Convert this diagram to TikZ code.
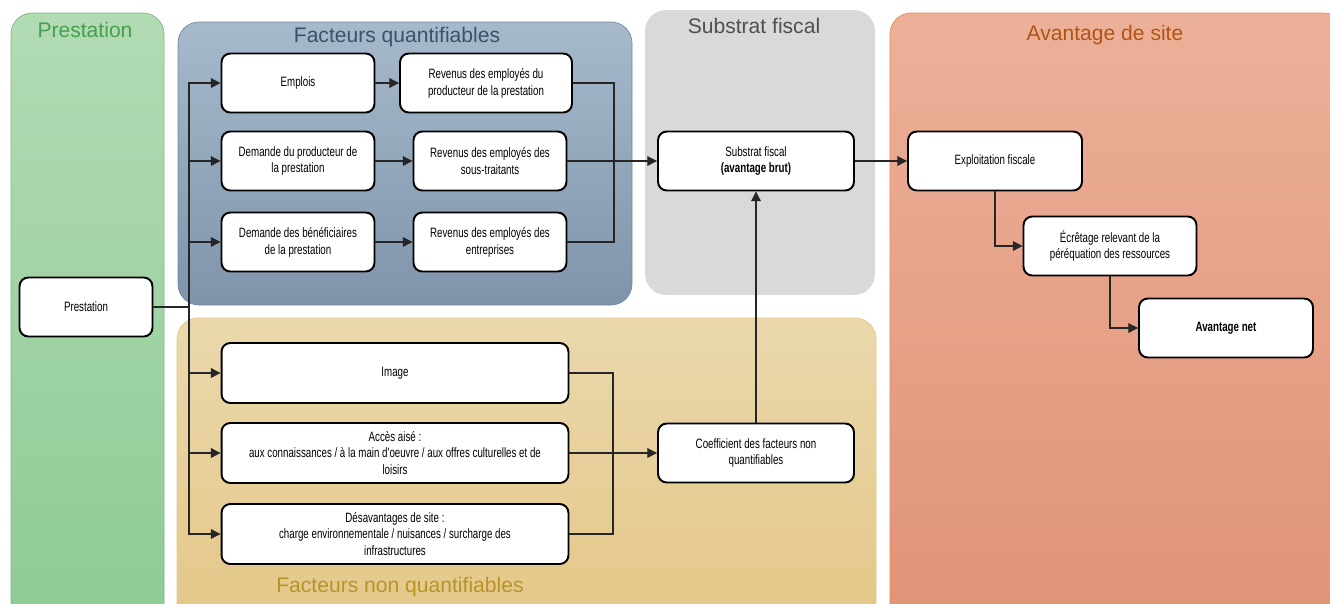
\documentclass[tikz,border=0pt]{standalone}
\usepackage{fontspec}
\setmainfont{Liberation Sans}
\newfontfamily\narrowfont[FakeStretch=0.72]{Liberation Sans}
\usetikzlibrary{arrows.meta}
\newcommand{\boxh}{1.18cm}
\definecolor{greentop}{RGB}{178,219,180}
\definecolor{greenbot}{RGB}{142,203,149}
\definecolor{bluetop}{RGB}{167,186,204}
\definecolor{bluebot}{RGB}{127,148,171}
\definecolor{tantop}{RGB}{234,216,172}
\definecolor{tanbot}{RGB}{228,199,136}
\definecolor{salmontop}{RGB}{236,176,153}
\definecolor{salmonbot}{RGB}{224,147,119}
\definecolor{greytitle}{RGB}{80,80,80}

\begin{document}
\begin{tikzpicture}[x=0.02cm,y=-0.02cm,
    box/.style={draw, line width=1.1pt, rounded corners=5pt, fill=white, align=center,
      minimum height=\boxh, inner sep=2pt, font=\narrowfont\fontsize{7.7}{9.6}\selectfont},
    link/.style={draw=black!85, line width=0.6pt},
    arr/.style={link, -{Triangle[length=5.5pt,width=5.5pt]}},
    title/.style={font=\fontsize{12}{14}\selectfont}]
  \useasboundingbox (0,0) rectangle (1330,603);
  \clip (0,0) rectangle (1330,603);

  % panels
  \draw[rounded corners=12pt, draw=greenbot!90!black, top color=greentop, bottom color=greenbot]
    (11,13) rectangle (164,625);
  \draw[rounded corners=12pt, draw=bluebot!90!black, top color=bluetop, bottom color=bluebot]
    (178,22) rectangle (632,305);
  \fill[rounded corners=12pt, black!15] (645,10) rectangle (875,295);
  \draw[rounded corners=12pt, draw=tanbot, top color=tantop, bottom color=tanbot]
    (177,318) rectangle (876,625);
  \draw[rounded corners=12pt, draw={rgb,255:red,232;green,140;blue,80}, top color=salmontop, bottom color=salmonbot]
    (890,13) rectangle (1345,625);

  \node (t1) at (85,30) [title, text={rgb,255:red,70;green,158;blue,80}] {Prestation};
  \node (t2) at (397,37) [title, text={rgb,255:red,58;green,82;blue,108}] {Facteurs quantifiables};
  \node (t3) at (754,26) [title, text=greytitle] {Substrat fiscal};
  \node (t4) at (1105,35) [title, text={rgb,255:red,178;green,84;blue,20}] {Avantage de site};
  \node (t5) at (400,587) [title, text={rgb,255:red,184;green,148;blue,40}] {Facteurs non quantifiables};

  % boxes
  \node (pres) at (86,307) [box, minimum width=2.66cm] {Prestation};
  \node (emp) at (298,83) [box, minimum width=3.06cm] {Emplois};
  \node (rev1) at (486,83) [box, minimum width=3.44cm] {Revenus des employés du\\producteur de la prestation};
  \node (dem1) at (298,161) [box, minimum width=3.06cm] {Demande du producteur de\\la prestation};
  \node (rev2) at (490,161) [box, minimum width=3.06cm] {Revenus des employés des\\sous-traitants};
  \node (dem2) at (298,242) [box, minimum width=3.06cm] {Demande des bénéficiaires\\de la prestation};
  \node (rev3) at (490,242) [box, minimum width=3.06cm] {Revenus des employés des\\entreprises};
  \node (sub) at (756,161) [box, minimum width=3.92cm] {Substrat fiscal\\\textbf{(avantage brut)}};
  \node (expl) at (995,161) [box, minimum width=3.48cm] {Exploitation fiscale};
  \node (ecr) at (1110,246) [box, minimum width=3.46cm] {Écrêtage relevant de la\\péréquation des ressources};
  \node (net) at (1226,328) [box, minimum width=3.48cm] {\textbf{Avantage net}};
  \node (img) at (395,373) [box, minimum width=6.94cm, minimum height=1.2cm] {Image};
  \node (acc) at (395,453) [box, minimum width=6.94cm, minimum height=1.2cm]
    {Accès aisé :\\aux connaissances / à la main d'oeuvre / aux offres culturelles et de\\loisirs};
  \node (des) at (395,534) [box, minimum width=6.94cm, minimum height=1.2cm]
    {Désavantages de site :\\charge environnementale / nuisances / surcharge des\\infrastructures};
  \node (coef) at (756,453) [box, minimum width=3.92cm] {Coefficient des facteurs non\\quantifiables};

  \coordinate (trunk) at (189,307);
  \coordinate (mq) at (614,161);
  \coordinate (mn) at (613,453);

  % connectors
  \draw[link] (pres) to (trunk);
  \foreach \b in {emp,dem1,dem2,img,acc,des}
    \draw[arr] (trunk) |- (\b.west);
  \draw[arr] (emp) to (rev1);
  \draw[arr] (dem1) to (rev2);
  \draw[arr] (dem2) to (rev3);
  \draw[link] (rev1.east) -| (mq);
  \draw[link] (rev3.east) -| (mq);
  \draw[arr] (rev2) to (sub);
  \draw[link] (img.east) -| (mn);
  \draw[link] (des.east) -| (mn);
  \draw[arr] (acc) to (coef);
  \draw[arr] (coef) to (sub);
  \draw[arr] (sub) to (expl);
  \draw[arr] (expl.south) |- (ecr.west);
  \draw[arr] (ecr.south) |- (net.west);
\end{tikzpicture}
\end{document}
